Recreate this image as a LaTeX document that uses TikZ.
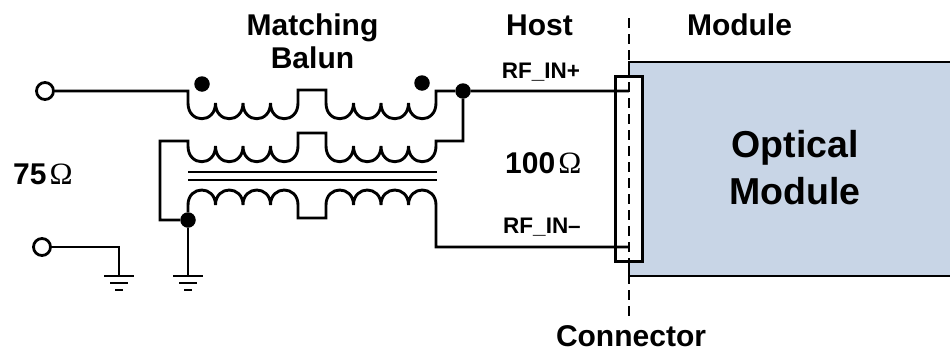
\documentclass[tikz,border=0pt]{standalone}
\usepackage{fontspec}
\setmainfont{Liberation Sans}
\newfontfamily\omfont{Liberation Serif}
\definecolor{modfill}{HTML}{C8D5E6}
\newcommand{\bD}{.. controls +(0,21) and +(0,21) .. ++(27.5,0)}
\newcommand{\bU}{.. controls +(0,-20) and +(0,-20) .. ++(27.5,0)}
\newcommand{\omg}{\kern3pt{\omfont\mdseries\fontsize{31}{33}\selectfont Ω}}
\tikzset{
  wire/.style={draw=black,line width=2.9pt,line join=miter},
  edge line/.style={draw=black,line width=2.4pt,line join=miter},
  term/.style={circle,draw=black,fill=white,line width=2.8pt,minimum size=17pt,inner sep=0pt},
  jdot/.style={circle,fill=black,minimum size=15.5pt,inner sep=0pt},
  lab/.style={inner sep=0pt,text=black,anchor=base,font=\fontsize{30}{33}\selectfont\bfseries},
  small/.style={lab,font=\fontsize{22.5}{25}\selectfont\bfseries},
  big/.style={lab,font=\fontsize{37.5}{47}\selectfont\bfseries}
}
\begin{document}
\begin{tikzpicture}[x=1pt,y=-1pt]
\useasboundingbox (0,0) rectangle (950,351);
\fill[white] (0,0) rectangle (950,351);
% module
\path[fill=modfill] (629,62) rectangle (950,276);
\draw[edge line] (629,76) -- (629,62) -- (950,62);
\draw[edge line] (629,262) -- (629,276) -- (950,276);
% nodes
\node[term] (t1) at (45,91) {};
\node[term] (t2) at (42,247) {};
\node[jdot] (j1) at (463,91) {};
\node[jdot] (j2) at (188,220) {};
\node[jdot] (p1) at (202,84) {};
\node[jdot] (p2) at (422,83) {};
\coordinate (g1) at (119,276);
\coordinate (g2) at (188,276);
% connector
\node[draw=black,fill=white,line width=2.9pt,minimum width=27.5pt,minimum height=185.5pt,inner sep=0pt] (conn) at (629,169) {};
\coordinate (pin1) at (629,91);
\coordinate (pin2) at (629,247);
% coil 1
\draw[wire] (t1) -- (188,91) -- (188,103) \bD \bD \bD \bD -- (298,90) -- (326,90) -- (326,103) \bD \bD \bD \bD -- (436,91) -- (j1) -- (pin1);
% coil 2
\draw[wire] (j2) -- (160,220) -- (160,141) -- (188,141) -- (188,146) \bD \bD \bD \bD -- (298,133) -- (326,133) -- (326,146) \bD \bD \bD \bD -- (436,141) -- (463,141) -- (j1);
% core
\draw[wire] (188,172) -- (437,172);
\draw[wire] (188,180) -- (437,180);
% coil 3
\draw[wire] (j2) -- (188,205) \bU \bU \bU \bU -- (298,218) -- (326,218) -- (326,205) \bU \bU \bU \bU -- (436,247) -- (pin2);
% grounds
\draw[wire] (t2) -- (119,247) -- (g1);
\draw[wire] (j2) -- (g2);
\foreach \g in {g1,g2}{
  \draw[wire] ([xshift=-15pt]\g) -- ([xshift=15pt]\g);
  \draw[wire] ([xshift=-9pt,yshift=-7pt]\g) -- ([xshift=9pt,yshift=-7pt]\g);
  \draw[wire] ([xshift=-4pt,yshift=-14pt]\g) -- ([xshift=4pt,yshift=-14pt]\g);
}
% dashed line
\coordinate (d1) at (629,18);
\coordinate (d2) at (629,320);
\draw[line width=2.8pt,dash pattern=on 10pt off 6pt] (d1) -- (d2);
% labels
\node[lab,align=center] (lmb) at (312.5,68) {Matching\\Balun};
\node[lab] (lhost) at (539.5,35) {Host};
\node[lab] (lmod) at (739.5,35) {Module};
\node[small] (lp) at (541,78) {RF\_IN+};
\node[small] (ln) at (542,233) {RF\_IN–};
\node[lab,anchor=base west] (l100) at (505,173) {100\omg};
\node[lab,anchor=base west] (l75) at (13,184) {75\omg};
\node[big,align=center] (lopt) at (795,204) {Optical\\Module};
\node[lab] (lconn) at (631,346) {Connector};
\end{tikzpicture}
\end{document}
